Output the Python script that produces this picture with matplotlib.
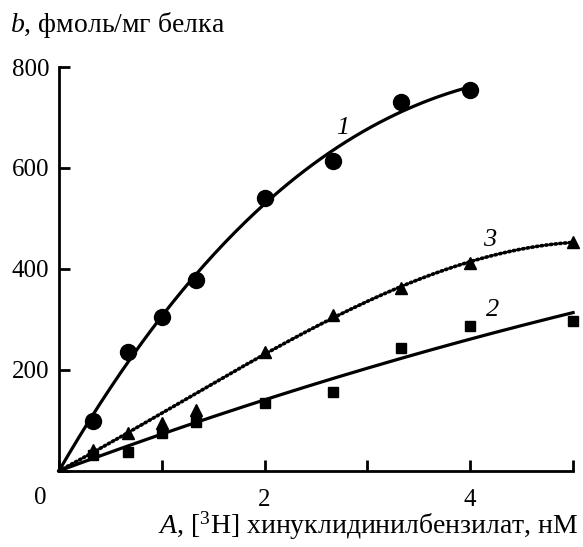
import numpy as np
import matplotlib
matplotlib.use("Agg")
import matplotlib.pyplot as plt

plt.rcParams['font.family'] = ['Liberation Serif', 'DejaVu Serif']
plt.rcParams['mathtext.fontset'] = 'custom'
plt.rcParams['mathtext.it'] = 'Liberation Serif:italic'
plt.rcParams['mathtext.rm'] = 'Liberation Serif'

# данные
A1 = [0.33, 0.67, 1.0, 1.33, 2.0, 2.67, 3.33, 4.0]
b1 = [99, 235, 305, 378, 540, 614, 731, 755]

A2 = [0.33, 0.67, 1.0, 1.33, 2.0, 2.67, 3.33, 4.0, 5.0]
b2 = [32, 38, 75, 97, 135, 156, 243, 287, 297]

A3 = [0.33, 0.67, 1.0, 1.33, 2.0, 2.67, 3.33, 4.0, 5.0]
b3 = [42, 75, 95, 121, 235, 309, 362, 412, 453]

curve_labels = ['1', '2', '3']
xticks = [0, 1, 2, 3, 4, 5]
xticklabels = ['', '', '2', '', '4', '']
yticks = [0, 200, 400, 600, 800]
yticklabels = ['', '200', '400', '600', '800']


def fit(x, y, xmax, deg=3, w=None):
    # аппроксимация через начало координат
    xx = np.concatenate([[0], x])
    yy = np.concatenate([[0], y])
    ww = np.ones_like(xx) if w is None else np.concatenate([[1], w])
    X = np.vstack([xx ** k for k in range(1, deg + 1)]).T
    c, *_ = np.linalg.lstsq(X * ww[:, None], yy * ww, rcond=None)
    xs = np.linspace(0, xmax, 200)
    ys = sum(c[k - 1] * xs ** k for k in range(1, deg + 1))
    return xs, ys


fig = plt.figure(figsize=(5.83, 5.47), dpi=100)
ax = fig.add_axes([0.101, 0.139, 0.882, 0.7385])

xs, ys = fit(np.array(A1), np.array(b1), 4.0)
ax.plot(xs, ys, color='black', lw=2.3)
ax.plot(A1, b1, 'o', color='black', ms=11.5)

xs, ys = fit(np.array(A2), np.array(b2), 5.0, deg=2)
ax.plot(xs, ys, color='black', lw=2.3)
ax.plot(A2, b2, 's', color='black', ms=7.5)

w3 = np.array([1, 1, 1, 0.5, 2, 2, 2, 2, 4.0])
xs, ys = fit(np.array(A3), np.array(b3), 5.0, deg=3, w=w3)
ax.plot(xs, ys, color='black', lw=2.6, linestyle=(0, (0.4, 0.9)),
        dash_capstyle='round')
ax.plot(A3, b3, '^', color='black', ms=8)

ax.text(2.76, 680, curve_labels[0], fontsize=19, style='italic', ha='center', va='center')
ax.text(4.22, 318, curve_labels[1], fontsize=19, style='italic', ha='center', va='center')
ax.text(4.19, 458, curve_labels[2], fontsize=19, style='italic', ha='center', va='center')

ax.set_xlim(0, 5)
ax.set_ylim(0, 800)
ax.spines['top'].set_visible(False)
ax.spines['right'].set_visible(False)
ax.spines['left'].set_linewidth(2)
ax.spines['bottom'].set_linewidth(2)
ax.set_xticks(xticks)
ax.set_xticklabels(xticklabels)
ax.set_yticks(yticks)
ax.set_yticklabels(yticklabels)
ax.tick_params(axis='x', direction='in', length=8, width=2, pad=13, labelsize=18)
ax.tick_params(axis='y', direction='in', length=8, width=2, pad=7, labelsize=18)

fig.text(40 / 583, 1 - 498 / 547, '0', fontsize=18, ha='center', va='center')
fig.text(10 / 583, 1 - 25 / 547, r'$b$, фмоль/мг белка', fontsize=20, ha='left', va='center')
fig.text(578 / 583, 1 - 526 / 547, r'$A$, [$^3$H] хинуклидинилбензилат, нМ',
         fontsize=20, ha='right', va='center')

for ln in ax.lines:
    ln.set_clip_on(False)

fig.savefig('out.png', dpi=100)
